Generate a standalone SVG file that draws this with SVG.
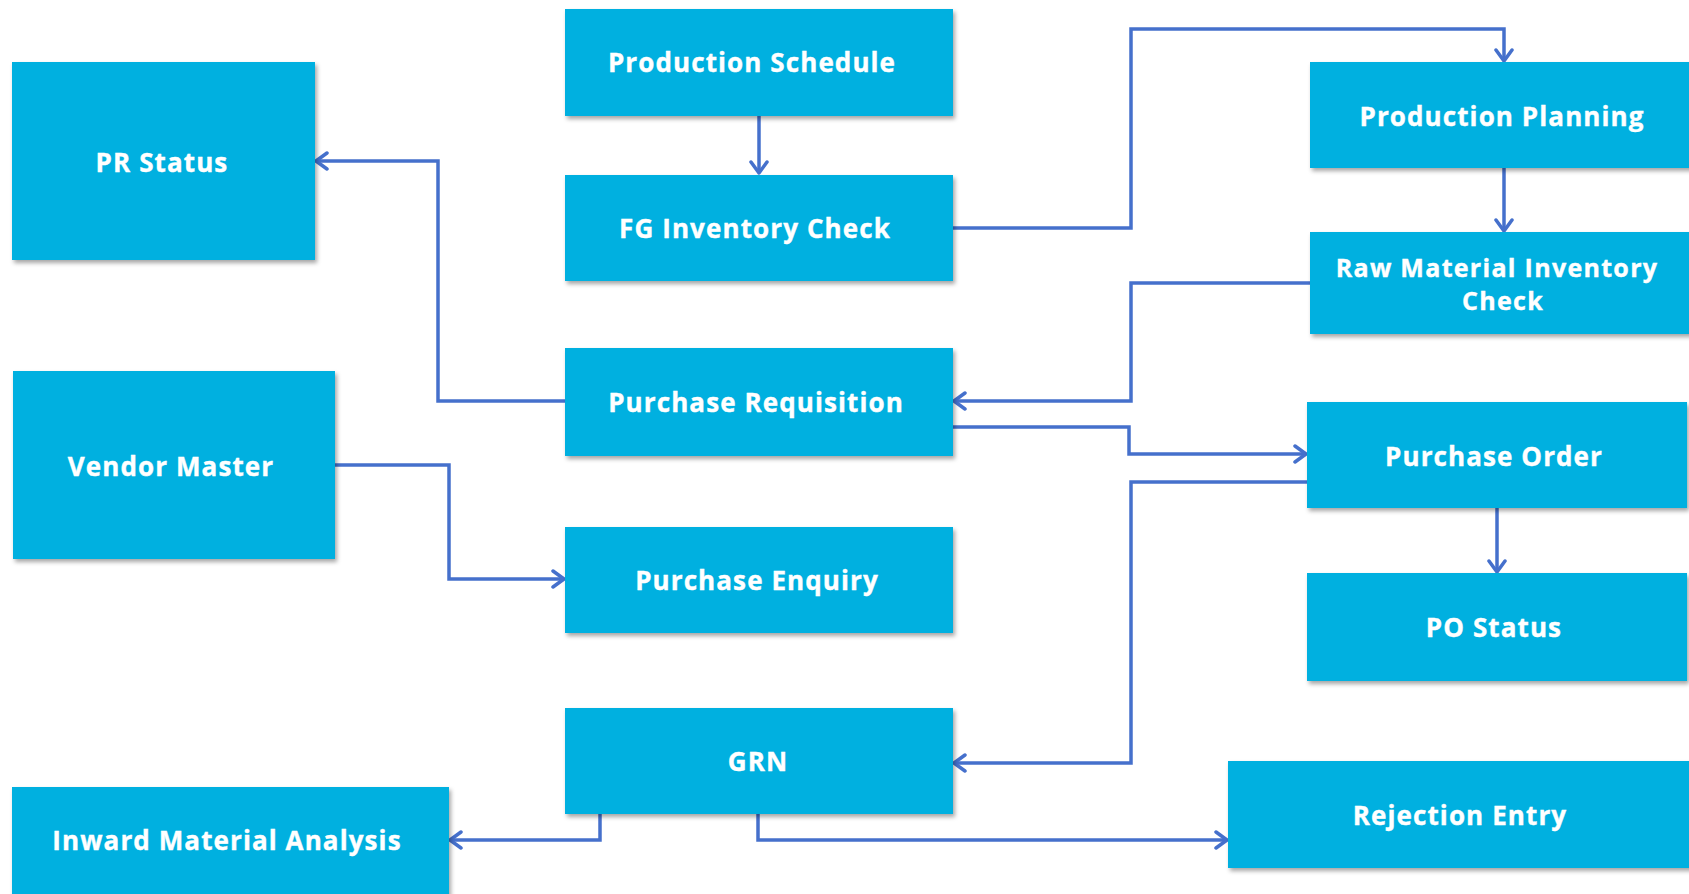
<svg xmlns="http://www.w3.org/2000/svg" width="1689" height="894" viewBox="0 0 1689 894">
<defs>
<filter id="sh" x="-5%" y="-10%" width="115%" height="130%">
<feDropShadow dx="2" dy="3" stdDeviation="2" flood-color="#000" flood-opacity="0.35"/>
</filter>
<marker id="ah" viewBox="0 0 16 20" refX="14" refY="10" markerWidth="16" markerHeight="20" markerUnits="userSpaceOnUse" orient="auto">
<path d="M3,2 L14,10 L3,18" fill="none" stroke="#4570CC" stroke-width="3.5" stroke-linecap="round" stroke-linejoin="round"/>
</marker>
<style>
.box{fill:#02B0E0;filter:url(#sh)}
.lbl{font-family:"Open Sans","Noto Sans","Liberation Sans",sans-serif;font-weight:700;font-size:26px;letter-spacing:1.1px;fill:#fff;stroke:#fff;stroke-width:0.4;text-anchor:middle;dominant-baseline:central}
.sm{font-size:25px;letter-spacing:1.3px}
.con{fill:none;stroke:#4570CC;stroke-width:3.5;marker-end:url(#ah)}
</style>
</defs>
<rect width="1689" height="894" fill="#fff"/>
<g id="connectors">
<path class="con" d="M759,116 V173"/>
<path class="con" d="M953,228 H1131 V29 H1504 V61"/>
<path class="con" d="M1504,168 V231"/>
<path class="con" d="M1310,283 H1131 V401 H954"/>
<path class="con" d="M565,401 H438 V161 H316"/>
<path class="con" d="M953,427 H1129 V454 H1306"/>
<path class="con" d="M1497,508 V572"/>
<path class="con" d="M1307,482 H1131 V763 H954"/>
<path class="con" d="M335,465 H449 V579 H564"/>
<path class="con" d="M600,814 V840 H450"/>
<path class="con" d="M758,814 V840 H1227"/>
</g>
<g id="production-schedule"><rect class="box" x="565" y="9" width="388" height="107"/><text class="lbl" x="752" y="62">Production Schedule</text></g>
<g id="fg-inventory-check"><rect class="box" x="565" y="175" width="388" height="106"/><text class="lbl" x="755" y="228">FG Inventory Check</text></g>
<g id="purchase-requisition"><rect class="box" x="565" y="348" width="388" height="108"/><text class="lbl" x="756" y="402">Purchase Requisition</text></g>
<g id="purchase-enquiry"><rect class="box" x="565" y="527" width="388" height="106"/><text class="lbl" x="757" y="580">Purchase Enquiry</text></g>
<g id="grn"><rect class="box" x="565" y="708" width="388" height="106"/><text class="lbl" x="758" y="761">GRN</text></g>
<g id="pr-status"><rect class="box" x="12" y="62" width="303" height="198"/><text class="lbl" x="162" y="162">PR Status</text></g>
<g id="vendor-master"><rect class="box" x="13" y="371" width="322" height="188"/><text class="lbl" x="171" y="466">Vendor Master</text></g>
<g id="inward-material-analysis"><rect class="box" x="12" y="787" width="437" height="120"/><text class="lbl" x="227" y="840">Inward Material Analysis</text></g>
<g id="production-planning"><rect class="box" x="1310" y="62" width="384" height="106"/><text class="lbl" x="1502" y="116">Production Planning</text></g>
<g id="raw-material-inventory-check"><rect class="box" x="1310" y="232" width="384" height="102"/><text class="lbl sm" x="1497" y="267">Raw Material Inventory</text><text class="lbl sm" x="1503" y="300">Check</text></g>
<g id="purchase-order"><rect class="box" x="1307" y="402" width="380" height="106"/><text class="lbl" x="1494" y="456">Purchase Order</text></g>
<g id="po-status"><rect class="box" x="1307" y="573" width="380" height="108"/><text class="lbl" x="1494" y="627">PO Status</text></g>
<g id="rejection-entry"><rect class="box" x="1228" y="761" width="466" height="107"/><text class="lbl" x="1460" y="815">Rejection Entry</text></g>
</svg>
